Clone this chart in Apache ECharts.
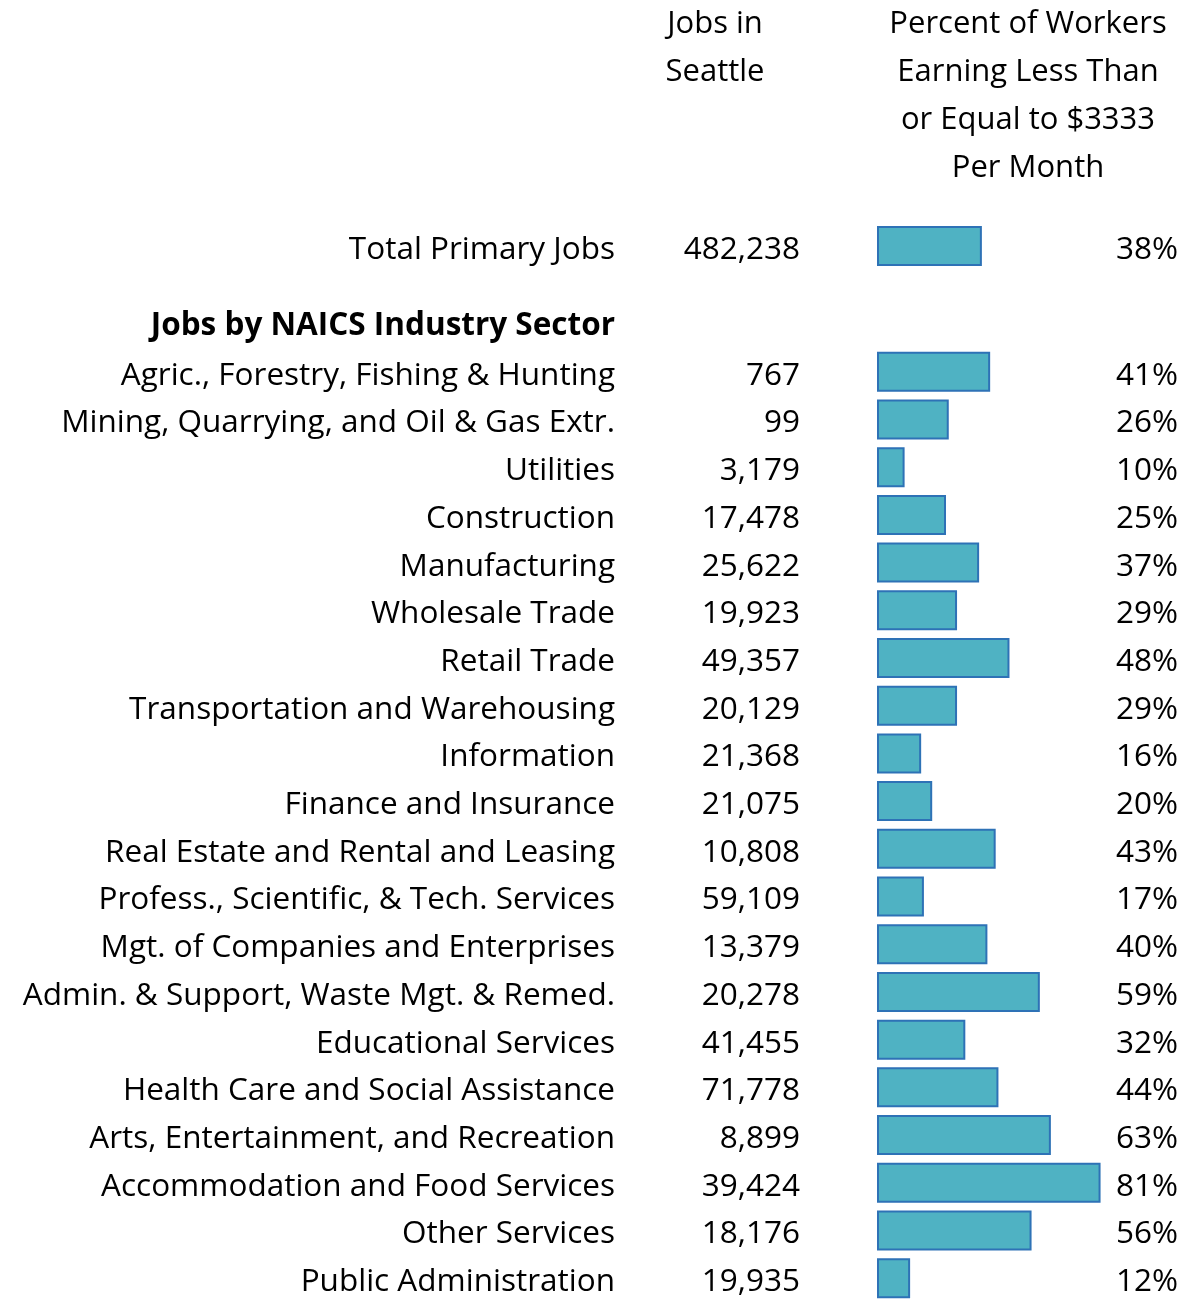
<!DOCTYPE html>
<html>
<head>
<meta charset="utf-8">
<script src="https://cdn.jsdelivr.net/npm/echarts@6/dist/echarts.min.js"></script>
<style>
  html, body { margin: 0; padding: 0; background: #fff; }
  #chart { width: 1187px; height: 1302px; }
</style>
</head>
<body>
<div id="chart"></div>
<script>
// Seattle primary jobs by NAICS sector, with share of workers earning <= $3333/month
const totalLabel = 'Total Primary Jobs';
const totalJobs = 482238;
const totalPct = 38;

const sectionTitle = 'Jobs by NAICS Industry Sector';
const sectors = [
  'Agric., Forestry, Fishing & Hunting',
  'Mining, Quarrying, and Oil & Gas Extr.',
  'Utilities',
  'Construction',
  'Manufacturing',
  'Wholesale Trade',
  'Retail Trade',
  'Transportation and Warehousing',
  'Information',
  'Finance and Insurance',
  'Real Estate and Rental and Leasing',
  'Profess., Scientific, & Tech. Services',
  'Mgt. of Companies and Enterprises',
  'Admin. & Support, Waste Mgt. & Remed.',
  'Educational Services',
  'Health Care and Social Assistance',
  'Arts, Entertainment, and Recreation',
  'Accommodation and Food Services',
  'Other Services',
  'Public Administration'
];
const jobs = [767, 99, 3179, 17478, 25622, 19923, 49357, 20129, 21368, 21075,
              10808, 59109, 13379, 20278, 41455, 71778, 8899, 39424, 18176, 19935];
const pctLow = [41, 26, 10, 25, 37, 29, 48, 29, 16, 20,
                43, 17, 40, 59, 32, 44, 63, 81, 56, 12];

const headJobs = 'Jobs in\nSeattle';
const headPct = 'Percent of Workers\nEarning Less Than\nor Equal to $3333\nPer Month';

const FONT = 'Open Sans';
const FS = 31.5;
const fmt = n => n.toLocaleString('en-US');

// Sector grid rows: section title row followed by the sectors
const rowNames = [sectionTitle].concat(sectors);
const rowJobs = [''].concat(jobs.map(fmt));
const rowPct = [''].concat(pctLow.map(p => p + '%'));
const rowBars = ['-'].concat(pctLow);

const BAR_LEFT = 877;
const BAR_W = 276;
const ROW = 47.84;

const txt = { fontFamily: FONT, fontSize: FS, color: '#000', padding: [8, 0, 0, 0] };
const rich = {
  t: txt,
  b: Object.assign({}, txt, { fontWeight: 'bold', padding: [4, 0, 0, 0] })
};

function catAxis(gridIndex, data, position, margin, align) {
  const label = {
    margin, interval: 0, rich,
    formatter: v => (v === sectionTitle ? '{b|' : '{t|') + v + '}'
  };
  if (align) label.align = align;
  return {
    type: 'category', gridIndex, data, position, inverse: true,
    axisLine: { show: false }, axisTick: { show: false }, splitLine: { show: false },
    axisLabel: label
  };
}

const headStyle = { font: '31px "' + FONT + '"', fill: '#000', align: 'center', lineHeight: 48 };
const barStyle = { color: '#4FB2C3', borderColor: '#2E72B6', borderWidth: 2 };

const option = {
  animation: false,
  backgroundColor: '#fff',
  textStyle: { fontFamily: FONT },
  graphic: [
    { type: 'text', x: 715, y: 0, style: Object.assign({ text: headJobs }, headStyle) },
    { type: 'text', x: 1028, y: 0, style: Object.assign({ text: headPct }, headStyle) }
  ],
  grid: [
    { left: BAR_LEFT, width: BAR_W, top: 246 - ROW / 2, height: ROW },
    { left: BAR_LEFT, width: BAR_W, top: 372 - ROW * 1.5, height: ROW * rowNames.length }
  ],
  xAxis: [
    { type: 'value', gridIndex: 0, min: 0, max: 100, show: false },
    { type: 'value', gridIndex: 1, min: 0, max: 100, show: false }
  ],
  yAxis: [
    catAxis(0, [totalLabel], 'left', BAR_LEFT - 615),
    catAxis(0, [fmt(totalJobs)], 'left', BAR_LEFT - 800),
    catAxis(0, [totalPct + '%'], 'right', 25, 'right'),
    catAxis(1, rowNames, 'left', BAR_LEFT - 615),
    catAxis(1, rowJobs, 'left', BAR_LEFT - 800),
    catAxis(1, rowPct, 'right', 25, 'right')
  ],
  series: [
    { type: 'bar', xAxisIndex: 0, yAxisIndex: 0, data: [totalPct], barWidth: 40, itemStyle: barStyle },
    { type: 'bar', xAxisIndex: 1, yAxisIndex: 3, data: rowBars, barWidth: 40, itemStyle: barStyle }
  ]
};

const chart = echarts.init(document.getElementById('chart'), null, { renderer: 'canvas' });
chart.setOption(option);
</script>
</body>
</html>
